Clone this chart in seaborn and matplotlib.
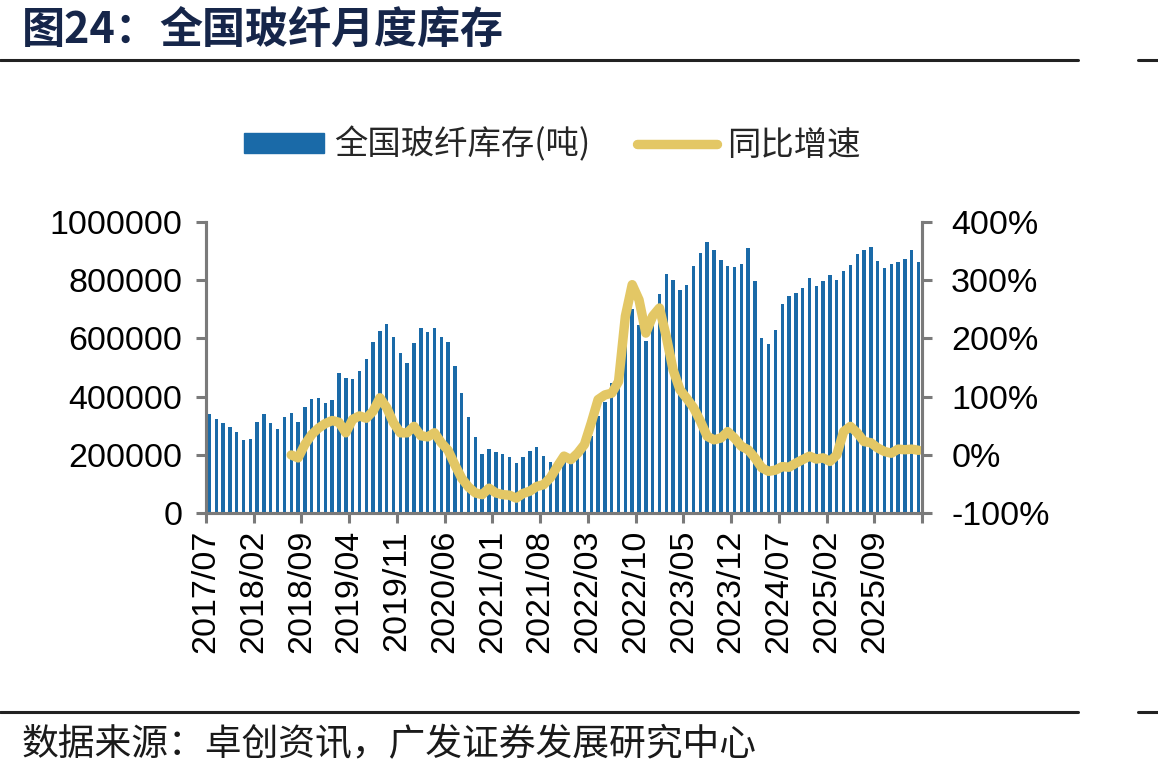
import numpy as np
import pandas as pd
import seaborn as sns
import matplotlib.pyplot as plt
from matplotlib.patches import Patch
from matplotlib.lines import Line2D

# monthly glass fibre inventory (tons), 2017/07 - 2026/03
months = pd.date_range("2017-07-01", periods=105, freq="MS").strftime("%Y/%m").tolist()
stock = [
    340, 323, 309, 296, 278, 251, 254, 312, 340, 310, 288, 331,
    344, 313, 365, 391, 394, 378, 389, 480, 464, 460, 487, 528,
    587, 624, 649, 605, 549, 516, 585, 636, 622, 636, 604, 588,
    506, 413, 330, 261, 202, 221, 209, 205, 194, 172, 192, 214,
    227, 197, 176, 179, 190, 195, 210, 235, 265, 334, 383, 446,
    470, 600, 701, 645, 590, 660, 751, 821, 800, 766, 783, 849,
    892, 929, 903, 867, 849, 844, 854, 909, 796, 600, 580, 628,
    717, 745, 756, 772, 807, 780, 796, 817, 799, 831, 852, 889,
    903, 913, 865, 841, 854, 862, 872, 903, 861,
]
stock = [v * 1000 for v in stock]

# YoY growth (%), starts 2018/07
yoy_start = 12
yoy = [
    0, -5, 18, 35, 46, 54, 59, 56, 38, 61, 67, 63,
    75, 98, 81, 55, 38, 38, 49, 33, 31, 38, 21, 8,
    -17, -40, -55, -65, -68, -57, -65, -68, -69, -74, -66, -62,
    -54, -51, -39, -20, -2, -8, 3, 18, 55, 95, 103, 106,
    126, 238, 292, 266, 209, 238, 252, 203, 146, 112, 97, 81,
    58, 32, 26, 29, 40, 29, 15, 9, -5, -22, -28, -26,
    -20, -21, -14, -8, -2, -7, -5, -11, 0, 40, 49, 38,
    23, 21, 12, 6, 3, 10, 9, 10, 8,
]

bar_color = "#1a6aa8"
line_color = "#e3c765"
axis_color = "#7a7a7a"
cjk = ["Noto Sans CJK SC", "DejaVu Sans"]

df = pd.DataFrame({"pos": np.arange(len(months)), "month": months, "stock": stock})
df["yoy"] = np.nan
df.loc[yoy_start:, "yoy"] = yoy

sns.set_style("white")
plt.rcParams["font.family"] = ["Liberation Sans", "Noto Sans CJK SC"]

fig = plt.figure(figsize=(11.58, 7.79), dpi=100)
ax = fig.add_axes([0.1779, 0.3411, 0.6183, 0.3743])
ax2 = ax.twinx()

sns.barplot(data=df, x="pos", y="stock", ax=ax, native_scale=True, width=0.5,
            color=bar_color, saturation=1, errorbar=None, linewidth=0)
sns.lineplot(data=df, x="pos", y="yoy", ax=ax2, color=line_color, lw=6.8,
             solid_capstyle="round", solid_joinstyle="round")

n = len(months)
ax.set_xlim(-0.5, n - 0.5)
ax.set_ylim(0, 1000000)
ax2.set_ylim(-100, 400)
ticks = np.arange(0, n + 1, 7)
ax.set_xticks(ticks - 0.5)
ax.set_xticklabels([months[i] if i < n else "" for i in ticks], rotation=90, fontsize=24.5)
ax.set_yticks(np.arange(0, 1000001, 200000))
ax.set_yticklabels([str(v) for v in range(0, 1000001, 200000)], fontsize=24.5)
ax2.set_yticks(np.arange(-100, 401, 100))
ax2.set_yticklabels([f"{v}%" for v in range(-100, 401, 100)], fontsize=24.5)
ax.set_xlabel("")
ax.set_ylabel("")
ax2.set_ylabel("")

for a in (ax, ax2):
    a.spines["top"].set_visible(False)
    for s in ("left", "right", "bottom"):
        a.spines[s].set_color(axis_color)
        a.spines[s].set_linewidth(2.2)
    a.tick_params(colors=axis_color, labelcolor="black", width=2.2, length=7)
ax.tick_params(axis="y", pad=10, left=True)
ax.tick_params(axis="x", pad=5, bottom=True)
ax2.tick_params(axis="y", pad=14, right=True)
ax.grid(False)
ax2.grid(False)

handles = [Patch(color=bar_color), Line2D([], [], color=line_color, lw=6.8, solid_capstyle="round")]
fig.legend(handles, ["全国玻纤库存(吨)", "同比增速"], loc="center", bbox_to_anchor=(0.477, 0.814),
           ncol=2, frameon=False, prop={"family": cjk, "size": 24}, handlelength=2.4,
           handleheight=0.55, handletextpad=0.3, columnspacing=1.4)

title_color = "#16264a"
fig.text(0.019, 0.9615, "图24：", fontsize=31, fontweight="bold", family=cjk,
         color=title_color, va="center")
fig.text(0.138, 0.9615, "全国玻纤月度库存", fontsize=31, fontweight="bold", family=cjk,
         color=title_color, va="center")
fig.add_artist(Line2D([0, 0.931], [0.923, 0.923], color="#222222", lw=2.2))
fig.add_artist(Line2D([0.983, 1.0], [0.923, 0.923], color="#222222", lw=2.2))
fig.add_artist(Line2D([0, 0.931], [0.086, 0.086], color="#222222", lw=2.2))
fig.add_artist(Line2D([0.983, 1.0], [0.086, 0.086], color="#222222", lw=2.2))
fig.text(0.019, 0.0437, "数据来源：卓创资讯，广发证券发展研究中心", fontsize=26.5, family=cjk,
         color="#1a1a1a", va="center")

fig.savefig("out.png", dpi=100)
